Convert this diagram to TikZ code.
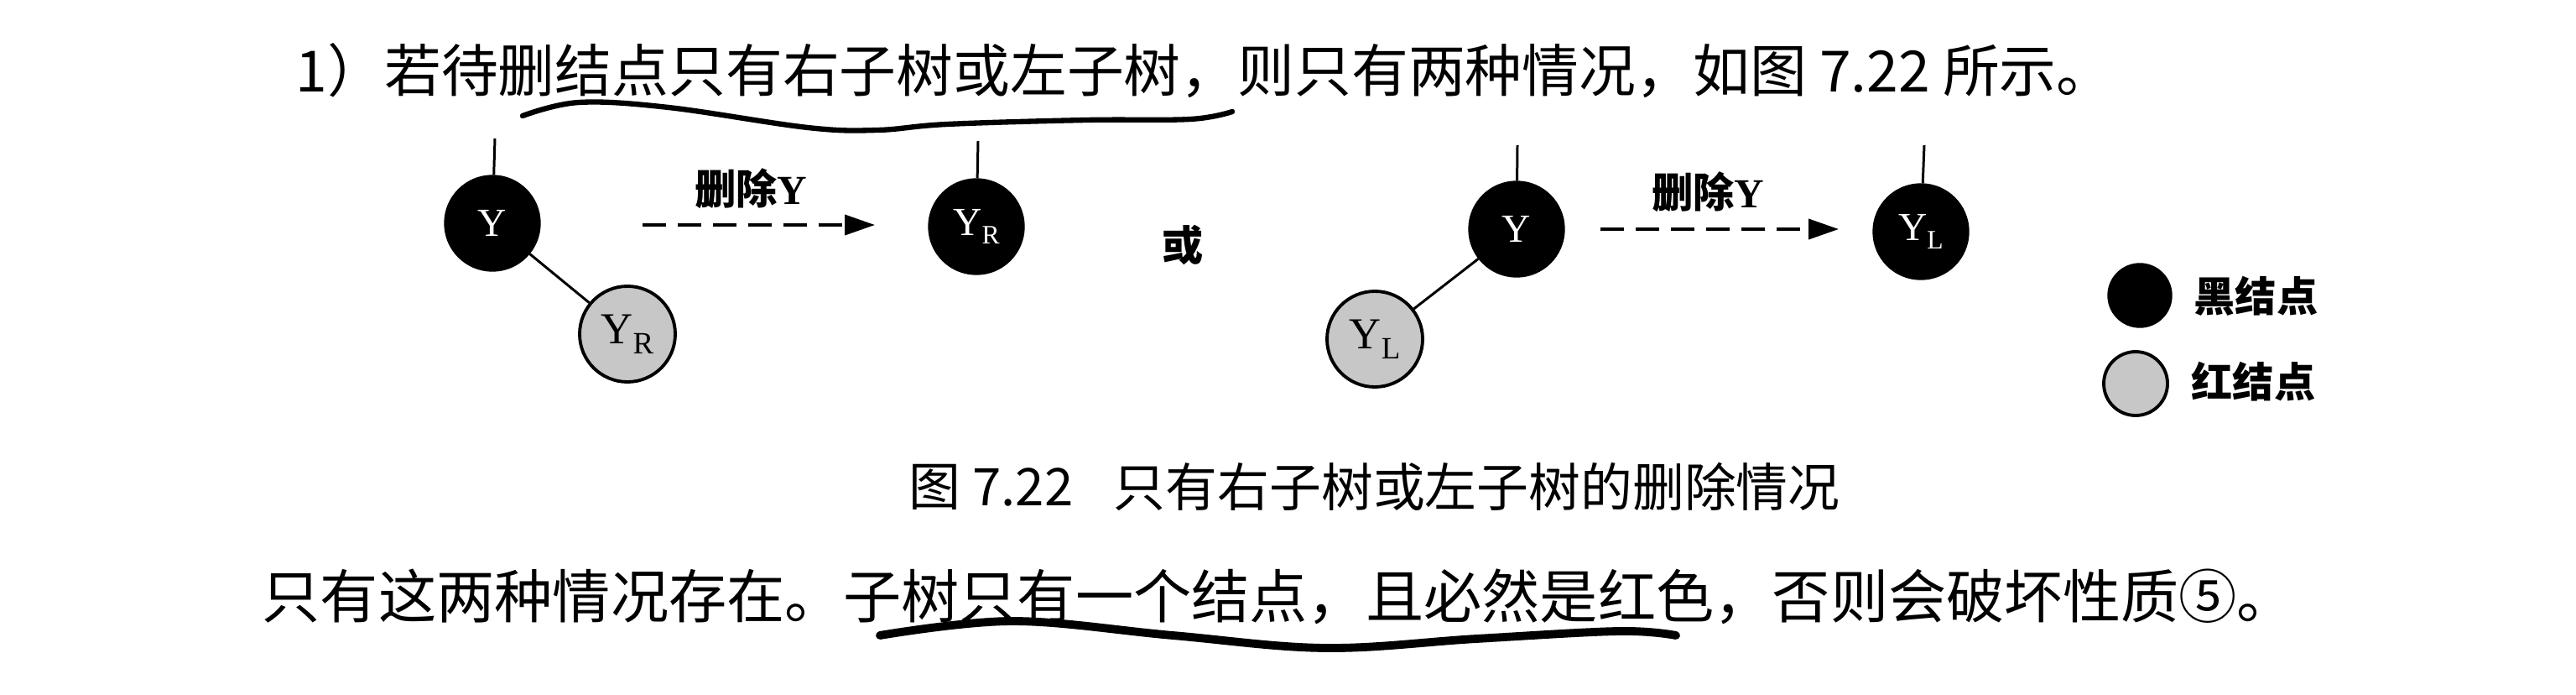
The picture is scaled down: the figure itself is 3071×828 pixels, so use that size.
\documentclass[tikz,border=0pt]{standalone}
\usepackage{fontspec}
\usepackage{graphicx}
\setmainfont{Liberation Serif}
\newfontfamily\cjk{Noto Sans CJK SC}
\usetikzlibrary{arrows.meta}
\newcommand\lowsub[1]{\raisebox{-0.45ex}{\fontsize{9pt}{9pt}\selectfont #1}}
\newcommand\lowsubb[1]{\raisebox{-0.5ex}{\fontsize{10.5pt}{10.5pt}\selectfont #1}}
\tikzset{
  blacknode/.style={circle, fill=black, draw=black, minimum size=11.4mm, inner sep=0pt,
    text=white, font=\fontsize{13.5pt}{14pt}\selectfont},
  rednode/.style={circle, fill=black!22, draw=black, line width=1.1pt, minimum size=11.4mm, inner sep=0pt,
    text=black, font=\fontsize{15pt}{16pt}\selectfont},
  legblack/.style={circle, fill=black, draw=black, minimum size=7.6mm, inner sep=0pt},
  legred/.style={circle, fill=black!22, draw=black, line width=1.1pt, minimum size=7.6mm, inner sep=0pt},
  edgeline/.style={line width=0.85pt, black},
  delarrow/.style={dashed, dash pattern=on 2.8mm off 1.4mm, line width=1.1pt,
    -{Triangle[length=3.6mm, width=2.4mm]}},
  boldlabel/.style={font=\cjk\bfseries\fontsize{14pt}{15pt}\selectfont, inner sep=0pt},
  bodytext/.style={anchor=west, inner sep=0pt, font=\cjk\fontsize{19.3pt}{20pt}\selectfont},
  captext/.style={anchor=west, inner sep=0pt, font=\cjk\fontsize{17.6pt}{18pt}\selectfont},
  wavy/.style={line width=1.8pt, line cap=round, black}
}
\begin{document}
\begin{tikzpicture}[x=0.1mm, y=-0.1mm]
\useasboundingbox (0,0) rectangle (3071,828);
% top text
\node[bodytext] (t1) at (352,84) {1）若待删结点只有右子树或左子树，则只有两种情况，如图 7.22 所示。};
\draw[wavy] plot[smooth, tension=0.6] coordinates {(623,138) (690,122) (797,128) (963,152) (1046,155) (1129,148) (1295,143) (1419,142) (1469,133)};

% left case
\node[blacknode] (Y1) at (587,266) {Y};
\node[rednode] (YR1) at (748,398) {Y\lowsubb{R}};
\coordinate (p1) at (590,165);
\draw[edgeline] (p1) -- (Y1);
\draw[edgeline] (Y1) -- (YR1);
\coordinate (a1s) at (766,268);
\coordinate (a1e) at (1043,268);
\draw[delarrow] (a1s) -- (a1e);
\node[boldlabel] (d1) at (895,225) {删除\textrm{Y}};
\node[blacknode] (YR2) at (1164,270) {Y\lowsub{R}};
\coordinate (p2) at (1166,168);
\draw[edgeline] (p2) -- (YR2);

\node[boldlabel] (or) at (1410,292) {或};

% right case
\node[blacknode] (Y2) at (1808,273) {Y};
\node[rednode] (YL2) at (1639,404) {Y\lowsubb{L}};
\coordinate (p3) at (1809,173);
\draw[edgeline] (p3) -- (Y2);
\draw[edgeline] (Y2) -- (YL2);
\coordinate (a2s) at (1908,273);
\coordinate (a2e) at (2192,273);
\draw[delarrow] (a2s) -- (a2e);
\node[boldlabel] (d2) at (2036,229) {删除\textrm{Y}};
\node[blacknode] (YL3) at (2290,276) {Y\lowsub{L}};
\coordinate (p4) at (2294,173);
\draw[edgeline] (p4) -- (YL3);

% legend
\node[legblack] (lb) at (2551,352) {};
\node[boldlabel, anchor=west] (lbt) at (2615,353) {黑结点};
\node[legred] (lr) at (2546,457) {};
\node[boldlabel, anchor=west] (lrt) at (2612,455) {红结点};

% caption
\node[captext] (c1) at (1083,580) {图 7.22};
\node[captext] (c2) at (1327,580) {只有右子树或左子树的删除情况};

% bottom text
\node[bodytext, font=\cjk\fontsize{19.7pt}{20pt}\selectfont] (t2) at (312,711) {只有这两种情况存在。子树只有一个结点，且必然是红色，否则会破坏性质⑤。};
\draw[wavy, line width=2.8pt] plot[smooth, tension=0.6] coordinates {(1049,757) (1207,740) (1398,757) (1580,772) (1760,761) (1930,752) (1998,757)};
\end{tikzpicture}
\end{document}
